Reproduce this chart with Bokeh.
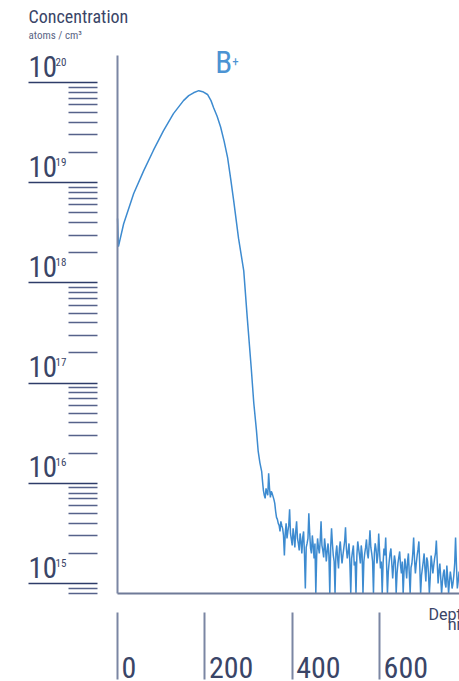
from bokeh.embed import file_html
from bokeh.models import CustomJSTickFormatter, FixedTicker, Label
from bokeh.plotting import figure
from bokeh.resources import INLINE

# implant profile (depth in nm, concentration in atoms/cm3)
profile_depth = [0, 2, 14, 37, 60, 82, 105, 128, 151, 163, 174, 186, 195,
                 206, 214, 220, 228, 236, 244, 252, 259, 266, 277, 289, 297,
                 306, 312, 318, 322, 326]
profile_conc = [4.4e18, 2.3e18, 3.9e18, 7.8e18, 1.32e19, 2.1e19, 3.3e19,
                4.9e19, 6.6e19, 7.4e19, 7.9e19, 8.3e19, 8.1e19, 7.6e19,
                6.6e19, 5.6e19, 4.6e19, 3.6e19, 2.6e19, 1.78e19, 1.1e19,
                6.6e18, 2.8e18, 1.32e18, 4.5e17, 1.44e17, 6.3e16, 3.4e16,
                2.1e16, 1.6e16]

# noisy background tail (log10 of concentration, 14.9 = down at the axis)
tail_depth = [
    330, 332, 334, 336, 338, 340, 342, 344, 346, 348, 350, 352,
    354, 356, 358, 360, 362, 364, 366, 368, 370, 372, 374, 376,
    378, 380, 382, 384, 386, 388, 390, 392, 394, 396, 398, 400,
    402, 404, 406, 408, 410, 412, 414, 416, 418, 420, 422, 424,
    426, 428, 430, 432, 434, 436, 438, 440, 442, 444, 446, 448,
    450, 452, 454, 456, 458, 460, 462, 464, 466, 468, 470, 472,
    474, 476, 478, 480, 482, 484, 486, 488, 490, 492, 494, 496,
    498, 500, 502, 504, 506, 508, 510, 512, 514, 516, 518, 520,
    522, 524, 526, 528, 530, 532, 534, 536, 538, 540, 542, 544,
    546, 548, 550, 552, 554, 556, 558, 560, 562, 564, 566, 568,
    570, 572, 574, 576, 578, 580, 582, 584, 586, 588, 590, 592,
    594, 596, 598, 600, 602, 604, 606, 608, 610, 612, 614, 616,
    618, 620, 622, 624, 626, 628, 630, 632, 634, 636, 638, 640,
    642, 644, 646, 648, 650, 652, 654, 656, 658, 660, 662, 664,
    666, 668, 670, 672, 674, 676, 678, 680, 682, 684, 686, 688,
    690, 692, 694, 696, 698, 700, 702, 704, 706, 708, 710, 712,
    714, 716, 718, 720, 722, 724, 726, 728, 730, 732, 734, 736,
    738, 740, 742, 744, 746, 748, 750, 752, 754, 756, 758, 760,
    762, 764, 766, 768, 770, 772, 774, 776, 778, 780, 782,
]
tail_log10 = [
    16.12, 16.02, 15.93, 15.88, 15.85, 15.95, 15.91, 15.88, 16.10, 15.95, 15.86, 15.92,
    15.90, 15.87, 15.84, 15.80, 15.72, 15.66, 15.64, 15.60, 15.58, 15.52, 15.62, 15.58,
    15.55, 15.48, 15.28, 15.50, 15.60, 15.45, 15.52, 15.58, 15.74, 15.50, 15.44, 15.38,
    15.55, 15.47, 15.36, 15.52, 15.62, 15.45, 15.40, 15.33, 15.50, 15.42, 15.30, 15.46,
    15.52, 15.30, 14.95, 15.36, 15.40, 15.45, 15.70, 15.50, 15.35, 15.30, 15.48, 15.38,
    15.25, 15.40, 14.90, 15.28, 15.45, 15.36, 15.30, 15.42, 15.62, 15.38, 15.33, 15.26,
    15.45, 15.36, 15.22, 15.32, 15.40, 15.28, 14.90, 15.36, 15.55, 15.40, 15.28, 15.22,
    14.90, 15.30, 15.38, 15.25, 15.15, 15.35, 15.42, 15.30, 15.20, 15.28, 15.35, 15.42,
    15.56, 15.35, 15.25, 15.32, 15.40, 15.20, 14.90, 15.25, 15.32, 15.38, 15.18, 15.22,
    14.90, 15.28, 15.42, 15.35, 15.28, 15.20, 15.38, 15.30, 14.90, 15.22, 15.30, 15.36,
    15.44, 15.30, 15.25, 15.38, 15.53, 15.36, 15.30, 15.22, 14.90, 15.30, 15.40, 15.34,
    15.20, 15.28, 15.50, 15.32, 15.15, 15.22, 14.90, 15.20, 15.35, 15.28, 15.46, 15.20,
    14.90, 15.12, 15.22, 15.30, 15.35, 15.20, 15.05, 15.18, 15.28, 15.22, 14.90, 15.10,
    15.20, 15.26, 15.32, 15.18, 15.10, 15.22, 14.90, 15.12, 15.25, 15.16, 15.05, 15.22,
    15.30, 15.10, 14.90, 15.16, 15.20, 15.30, 15.46, 15.24, 15.10, 15.20, 15.28, 15.34,
    15.42, 15.18, 14.90, 15.08, 15.15, 15.22, 15.30, 15.14, 15.02, 15.26, 15.22, 15.10,
    14.90, 15.06, 15.28, 15.20, 15.10, 15.18, 15.25, 15.30, 15.43, 15.22, 15.00, 15.12,
    15.20, 15.06, 14.90, 15.02, 15.10, 15.14, 15.00, 14.96, 15.18, 15.06, 14.90, 15.02,
    15.12, 15.05, 14.95, 15.00, 15.08, 15.20, 15.46, 15.18, 14.95, 15.02, 15.12,
]

x_ticks = [0, 200, 400, 600]
y_decades = [15, 16, 17, 18, 19, 20]
y_exponent_labels = ["15", "16", "17", "18", "19", "20"]

FONT = "Roboto Condensed"
TEXT = "#3a4567"
BLUE = "#3d8bd0"

# axis extents and the whole-canvas view around them
AX_X = (0, 783)
AX_Y = (7.94e14, 1.86e20)
VIEW_X = (-268, 783)
VIEW_Y = (1.052e14, 6.59e20)

depth = profile_depth + tail_depth
conc = profile_conc + [10 ** v for v in tail_log10]

p = figure(
    width=459,
    height=681,
    y_axis_type="log",
    x_range=VIEW_X,
    y_range=VIEW_Y,
    output_backend="svg",
    toolbar_location=None,
    min_border=0,
)
p.outline_line_color = None
p.grid.visible = False

p.line(depth, conc, line_color=BLUE, line_width=1.5)

blank = CustomJSTickFormatter(code="return ''")

# y axis: long ticks detached from the axis line
majors = [10.0 ** d for d in y_decades]
minors = [k * 10.0 ** d for d in [14] + y_decades[:-1] for k in range(2, 10)]
minors = [m for m in minors if AX_Y[0] <= m <= AX_Y[1]]
ya = p.yaxis[0]
ya.fixed_location = AX_X[0]
ya.bounds = AX_Y
ya.ticker = FixedTicker(ticks=majors, minor_ticks=minors)
ya.formatter = blank
ya.axis_line_color = "#7b86a3"
ya.axis_line_width = 2
ya.major_tick_in = -20
ya.major_tick_out = 89
ya.major_tick_line_color = "#2e3c69"
ya.major_tick_line_width = 1.5
ya.minor_tick_in = -20
ya.minor_tick_out = 49
ya.minor_tick_line_color = "#56628a"
ya.minor_tick_line_width = 1.5
ya.major_label_standoff = 0

xa = p.xaxis[0]
xa.fixed_location = AX_Y[0]
xa.bounds = AX_X
xa.ticker = FixedTicker(ticks=x_ticks, minor_ticks=[])
xa.formatter = blank
xa.axis_line_color = "#6f7a98"
xa.axis_line_width = 2
xa.major_tick_in = -19
xa.major_tick_out = 86
xa.major_tick_line_color = "#7b86a3"
xa.major_tick_line_width = 2
xa.minor_tick_out = 0
xa.major_label_standoff = 0


def add_label(**kw):
    kw.setdefault("text_font", FONT)
    kw.setdefault("text_color", TEXT)
    p.add_layout(Label(**kw))


for d, sup in zip(y_decades, y_exponent_labels):
    add_label(x=AX_X[0], y=10.0 ** d, x_offset=-89, y_offset=6, text="10",
              text_font_size="29px")
    add_label(x=AX_X[0], y=10.0 ** d, x_offset=-62, y_offset=17, text=sup,
              text_font_size="11px")

for t in x_ticks:
    add_label(x=t, y=AX_Y[0], x_offset=4, y_offset=-84, text=str(t),
              text_font_size="30px")

add_label(x=AX_X[0], y=AX_Y[1], x_offset=-89, y_offset=29,
          text="Concentration", text_font_size="18px")
add_label(x=AX_X[0], y=AX_Y[1], x_offset=-89, y_offset=14,
          text="atoms / cm³", text_font_size="11px", text_color="#5b6685")
add_label(x=AX_X[1], y=AX_Y[0], x_offset=11, y_offset=-30, text="Depth",
          text_font="Roboto", text_font_size="16px", text_align="right")
add_label(x=AX_X[1], y=AX_Y[0], x_offset=11, y_offset=-40, text="nm",
          text_font="Roboto", text_font_size="16px", text_align="right")

add_label(x=224, y=1e20, y_offset=2, text="B", text_font_size="31px",
          text_color="#4c93d3")
add_label(x=224, y=1e20, x_offset=17, y_offset=17, text="+",
          text_font_size="13px", text_color="#4c93d3")

open("out.html", "w").write(file_html(p, INLINE))
